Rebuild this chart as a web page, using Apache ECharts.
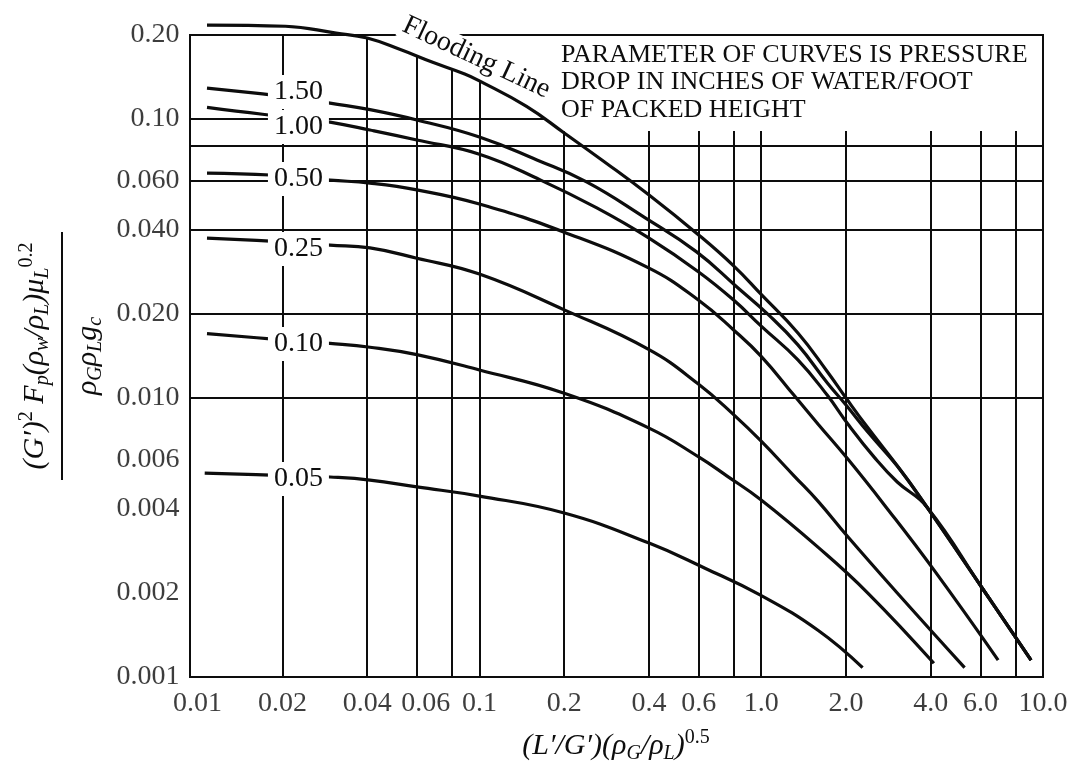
<!DOCTYPE html>
<html><head><meta charset="utf-8">
<script src="https://cdn.jsdelivr.net/npm/echarts@6/dist/echarts.min.js"></script>
<style>html,body{margin:0;padding:0;background:#fff}#c{width:1073px;height:765px}</style>
</head><body><div id="c"></div>
<script>
// ---- axis ticks / gridlines ----
const xGrid = [0.02,0.04,0.06,0.08,0.1,0.2,0.4,0.6,0.8,1,2,4,6,8,10];
const yGrid = [0.001,0.002,0.004,0.006,0.008,0.01,0.02,0.04,0.06,0.08,0.1,0.2];
const xTicks = [0.01,0.02,0.04,0.06,0.1,0.2,0.4,0.6,1,2,4,6,10];
const xTickLabels = ['0.01','0.02','0.04','0.06','0.1','0.2','0.4','0.6','1.0','2.0','4.0','6.0','10.0'];
const yTicks = [0.001,0.002,0.004,0.006,0.01,0.02,0.04,0.06,0.1,0.2];
const yTickLabels = ['0.001','0.002','0.004','0.006','0.010','0.020','0.040','0.060','0.10','0.20'];

// ---- curves ----
const floodX = [0.0108,0.0205,0.031,0.040,0.0527,0.0679,0.0887,0.100,0.147,0.200,0.272,0.400,0.600,0.800,1.00,1.35,1.72,2.00,2.35,3.12,3.87,6.15,9.07];
const floodY = [0.217,0.215,0.203,0.195,0.177,0.160,0.145,0.137,0.111,0.0891,0.0713,0.0534,0.0384,0.0297,0.0235,0.0171,0.0124,0.0100,0.0080,0.00552,0.00407,0.00205,0.00115];

const p150X = [0.0108,0.0170,0.0230,0.0295,0.0409,0.060,0.100,0.160,0.240,0.384,0.590,0.820,1.06,1.35,1.72,2.00,2.39,3.04,3.87,6.15,9.07];
const p150Y = [0.129,0.123,0.119,0.114,0.108,0.0992,0.0862,0.0713,0.0595,0.0445,0.0334,0.0250,0.0199,0.0155,0.0113,0.00944,0.00755,0.00570,0.00407,0.00205,0.00115];

const p100X = [0.0108,0.0170,0.0230,0.0295,0.0409,0.060,0.100,0.165,0.261,0.400,0.600,0.800,1.00,1.35,1.72,2.03,2.53,3.04,3.87,6.15,9.07];
const p100Y = [0.110,0.104,0.101,0.0975,0.0913,0.0841,0.0748,0.0604,0.0480,0.0374,0.0283,0.0224,0.0181,0.0137,0.0102,0.00807,0.00610,0.00500,0.00407,0.00205,0.00115];

const p050X = [0.0108,0.0181,0.0230,0.0295,0.0409,0.060,0.100,0.200,0.400,0.600,0.800,1.00,1.31,1.59,2.03,2.74,4.10,6.93];
const p050Y = [0.0640,0.0630,0.0619,0.0604,0.0589,0.0557,0.0496,0.0393,0.0292,0.0224,0.0175,0.0141,0.0102,0.00807,0.00604,0.00413,0.00242,0.00115];

const p025X = [0.0108,0.0181,0.0230,0.0295,0.0409,0.060,0.100,0.200,0.400,0.600,0.800,1.00,1.31,1.59,2.03,3.04,5.27];
const p025Y = [0.0374,0.0365,0.0359,0.0353,0.0345,0.0317,0.0278,0.0207,0.0149,0.0112,0.00870,0.00700,0.00525,0.00427,0.00318,0.00200,0.00108];

const p010X = [0.0108,0.0181,0.0230,0.0295,0.0409,0.060,0.100,0.200,0.400,0.600,0.757,1.00,1.59,2.39,4.10];
const p010Y = [0.0170,0.0163,0.0160,0.0157,0.0152,0.0143,0.0126,0.0104,0.00780,0.00615,0.00525,0.00431,0.00292,0.00200,0.00112];

const p005X = [0.0106,0.0181,0.0230,0.0295,0.0409,0.060,0.100,0.200,0.400,0.629,0.99,1.59,2.29];
const p005Y = [0.00538,0.00529,0.00525,0.00521,0.00508,0.00480,0.00445,0.00387,0.00302,0.00246,0.00197,0.00147,0.00108];

// parameter labels (pressure drop, in. water / ft)
const paramNames = ['1.50','1.00','0.50','0.25','0.10','0.05'];
const paramLabelX = 0.0228;
const paramLabelY = [0.125,0.0936,0.0609,0.0342,0.0156,0.00512];

const annotation = 'PARAMETER OF CURVES IS PRESSURE\nDROP IN INCHES OF WATER/FOOT\nOF PACKED HEIGHT';

// ---- build ----
const zip = (xs, ys) => xs.map((x, i) => [x, ys[i]]);
const INK = '#0d0d0d';
const FONT = 'Liberation Serif';
const X_MIN = 0.0094, X_MAX = 10, Y_MIN = 0.001, Y_MAX = 0.2;
const SMOOTH = 0.45;

function curveSeries(name, xs, ys, extra) {
  return Object.assign({
    name, type: 'line', data: zip(xs, ys), symbol: 'none', smooth: SMOOTH,
    lineStyle: {color: INK, width: 3.2}, z: 3, silent: true, animation: false
  }, extra || {});
}
function paramLabel(i) {
  return {
    symbol: 'rect', symbolSize: 1, silent: true, animation: false, z: 5,
    itemStyle: {color: 'rgba(0,0,0,0)'},
    label: {show: true, position: 'inside', formatter: paramNames[i], fontSize: 28, fontFamily: FONT,
      color: INK, backgroundColor: '#fff', padding: [3, 6]},
    data: [{coord: [paramLabelX, paramLabelY[i]]}]
  };
}

const subRich = (size) => ({
  m: {fontFamily: FONT, fontStyle: 'italic', fontSize: size, fill: INK, color: INK, lineHeight: size + 6},
  s: {fontFamily: FONT, fontStyle: 'italic', fontSize: Math.round(size * 0.68), fill: INK, color: INK, verticalAlign: 'bottom', lineHeight: Math.round(size * 0.68)},
  u: {fontFamily: FONT, fontSize: Math.round(size * 0.68), fill: INK, color: INK, verticalAlign: 'top', lineHeight: Math.round(size * 0.68)}
});

const option = {
  backgroundColor: '#fff',
  animation: false,
  grid: {left: 190, right: 30, top: 35, bottom: 88, containLabel: false, outerBoundsMode: 'none',
    show: true, z: 4, borderColor: INK, borderWidth: 2, backgroundColor: 'transparent'},
  xAxis: {type: 'log', logBase: 10, min: X_MIN, max: X_MAX,
    axisLine: {show: false}, axisTick: {show: false}, axisLabel: {show: false}, splitLine: {show: false}},
  yAxis: {type: 'log', logBase: 10, min: Y_MIN, max: Y_MAX,
    axisLine: {show: false}, axisTick: {show: false}, axisLabel: {show: false}, splitLine: {show: false}},
  graphic: [
    {type: 'text', x: 561, y: 41, z: 10, silent: true,
     style: {text: annotation, fontFamily: FONT, fontSize: 26, lineHeight: 27.5, fill: INK,
       align: 'left', verticalAlign: 'top', textAlign: 'left', textVerticalAlign: 'top'}},
    {type: 'text', x: 616, y: 746, z: 10, silent: true,
     style: {text: '{m|(L′/G′)(ρ}{s|G}{m|/ρ}{s|L}{m|)}{u|0.5}', rich: subRich(30),
       align: 'center', verticalAlign: 'middle', textAlign: 'center', textVerticalAlign: 'middle'}},
    {type: 'group', x: 62, y: 356, rotation: Math.PI / 2, z: 10, silent: true, children: [
      {type: 'text', x: 0, y: -27, style: {text: '{m|(G′)}{u|2}{m| F}{s|p}{m|(ρ}{s|w}{m|/ρ}{s|L}{m|)μ}{s|L}{u|0.2}', rich: subRich(30),
        align: 'center', verticalAlign: 'middle', textAlign: 'center', textVerticalAlign: 'middle'}},
      {type: 'line', shape: {x1: -124, y1: 0, x2: 124, y2: 0}, style: {stroke: INK, lineWidth: 2}},
      {type: 'text', x: 0, y: 26, style: {text: '{m|ρ}{s|G}{m|ρ}{s|L}{m|g}{s|c}', rich: subRich(30),
        align: 'center', verticalAlign: 'middle', textAlign: 'center', textVerticalAlign: 'middle'}}
    ]}
  ],
  series: [
    // gridlines and the white annotation box
    {type: 'line', data: [[X_MIN, Y_MIN]], symbol: 'none', lineStyle: {opacity: 0}, silent: true, z: 1,
     markLine: {silent: true, symbol: ['none', 'none'], z: 1, animation: false, label: {show: false},
       lineStyle: {color: INK, width: 2, type: 'solid'},
       data: xGrid.map(v => ({xAxis: v})).concat(yGrid.map(v => ({yAxis: v})))},
     markArea: {silent: true, z: 2, animation: false, itemStyle: {color: '#fff', opacity: 1, borderWidth: 0},
       label: {show: false},
       data: [[{xAxis: 0.17, yAxis: 0.0906}, {xAxis: X_MAX, yAxis: Y_MAX}]]}},
    // white region above flooding line (upper-left)
    {type: 'line', data: zip(floodX.slice(0, 10), floodY.slice(0, 10)), symbol: 'none', smooth: SMOOTH,
     lineStyle: {width: 0, opacity: 0}, areaStyle: {color: '#fff', opacity: 1, origin: 'end'}, z: 2, silent: true},
    curveSeries('Flooding Line', floodX, floodY, {clip: false,
      markPoint: {symbol: 'rect', symbolSize: 1, silent: true, animation: false, z: 5,
        itemStyle: {color: 'rgba(0,0,0,0)'},
        label: {show: true, position: 'inside', formatter: 'Flooding Line', rotate: -25, fontSize: 28,
          fontFamily: FONT, color: INK, backgroundColor: '#fff', padding: [0, 3]},
        data: [{coord: [0.0975, 0.166]}]}}),
    curveSeries('1.50', p150X, p150Y, {markPoint: paramLabel(0)}),
    curveSeries('1.00', p100X, p100Y, {markPoint: paramLabel(1)}),
    curveSeries('0.50', p050X, p050Y, {markPoint: paramLabel(2)}),
    curveSeries('0.25', p025X, p025Y, {markPoint: paramLabel(3)}),
    curveSeries('0.10', p010X, p010Y, {markPoint: paramLabel(4)}),
    curveSeries('0.05', p005X, p005Y, {markPoint: paramLabel(5)}),
    // tick labels
    {type: 'scatter', z: 6, clip: false, silent: true, symbolSize: 1, itemStyle: {color: 'rgba(0,0,0,0)'},
     data: xTicks.map((v, i) => ({name: xTickLabels[i], value: [v, Y_MIN],
       label: xTickLabels[i] === '0.06' ? {offset: [9, 0]} : undefined})),
     label: {show: true, position: 'bottom', distance: 12, formatter: '{b}', fontSize: 28, fontFamily: FONT, color: INK}},
    {type: 'scatter', z: 6, clip: false, silent: true, symbolSize: 1, itemStyle: {color: 'rgba(0,0,0,0)'},
     data: yTicks.map((v, i) => ({name: yTickLabels[i], value: [X_MIN, v]})),
     label: {show: true, position: 'left', distance: 10, formatter: '{b}', fontSize: 28, fontFamily: FONT, color: INK}}
  ]
};
const chart = echarts.init(document.getElementById('c'), null, {renderer: 'canvas'});
chart.setOption(option);
</script></body></html>
